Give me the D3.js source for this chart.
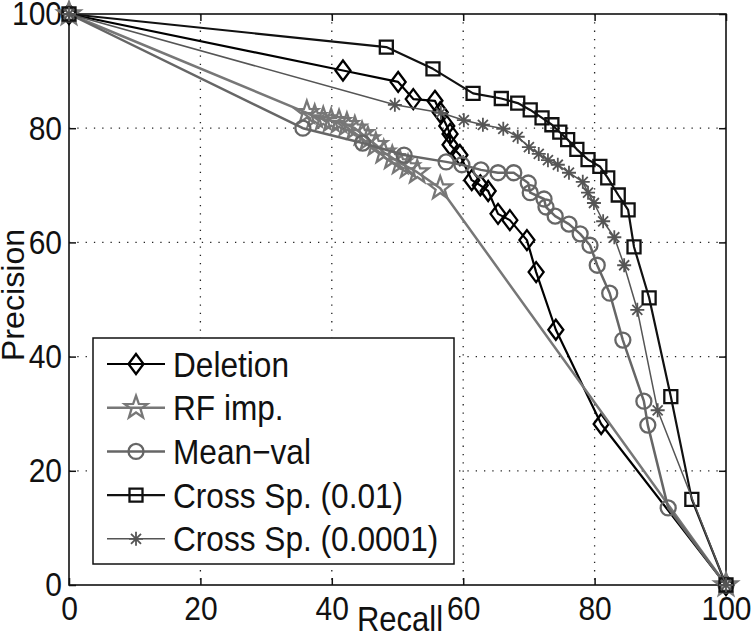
<!DOCTYPE html>
<html>
<head>
<meta charset="utf-8">
<script src="https://cdn.jsdelivr.net/npm/d3@7"></script>
<style>
body { margin: 0; background: #fff; }
text { font-family: "Liberation Sans", Arial, Helvetica, sans-serif; fill: #111; }
</style>
</head>
<body>
<svg id="chart"></svg>
<script>
// values: recall (%) vs precision (%)
var deletionRecall    = [0, 41.7, 50.1, 52.4, 55.7, 56.5, 57.5, 58.0, 58.0, 59.5, 61.3, 62.6, 63.8, 65.3, 67.1, 69.7, 71.1, 74.1, 81.0, 100]
var deletionPrecision = [100, 90.1, 88.1, 85.1, 84.8, 82.8, 80.4, 79.0, 77.1, 75.3, 70.9, 70.0, 69.0, 65.0, 63.9, 60.4, 54.8, 44.7, 28.2, 0]

var rfRecall    = [0, 36.2, 37.4, 38.7, 39.9, 41.1, 42.3, 43.5, 44.6, 45.5, 46.7, 47.9, 49.2, 50.4, 51.6, 53.0, 56.5, 100]
var rfPrecision = [100, 82.7, 82.0, 81.6, 81.3, 81.1, 80.6, 80.0, 79.0, 78.1, 77.1, 75.8, 74.8, 73.9, 73.2, 72.3, 69.5, 0]

var meanRecall    = [0, 35.6, 44.7, 51.0, 57.4, 59.8, 62.7, 65.3, 67.7, 69.9, 70.2, 72.3, 72.6, 74.0, 76.1, 77.8, 79.3, 80.4, 82.3, 84.3, 87.5, 88.1, 91.2, 100]
var meanPrecision = [100, 80.0, 77.4, 75.3, 74.1, 73.6, 72.7, 72.2, 72.2, 70.4, 68.7, 67.6, 66.2, 64.6, 63.2, 61.5, 59.5, 56.0, 51.1, 42.9, 32.2, 28.0, 13.5, 0]

var cross01Recall    = [0, 48.3, 55.4, 61.5, 65.8, 68.3, 70.2, 72.0, 73.5, 74.7, 75.9, 77.3, 79.0, 80.8, 82.0, 83.6, 85.1, 86.0, 88.3, 91.6, 94.8, 100]
var cross01Precision = [100, 94.2, 90.4, 86.1, 85.2, 84.4, 83.2, 81.8, 80.6, 79.3, 78.0, 76.3, 74.5, 73.3, 71.3, 68.3, 65.7, 59.2, 50.3, 33.0, 15.0, 0]

var cross0001Recall    = [0, 49.6, 56.6, 60.1, 63.0, 66.1, 68.3, 70.0, 71.5, 72.9, 74.4, 76.1, 78.2, 79.0, 79.9, 81.3, 83.0, 84.5, 86.5, 89.6, 100]
var cross0001Precision = [100, 84.1, 82.7, 81.4, 80.6, 79.9, 78.5, 76.7, 75.5, 74.4, 73.6, 72.2, 70.6, 68.7, 66.9, 63.7, 60.9, 56.0, 48.2, 30.6, 0]

var seriesNames = ["Deletion", "RF imp.", "Mean\u2212val", "Cross Sp. (0.01)", "Cross Sp. (0.0001)"]
var xTicks = [0, 20, 40, 60, 80, 100]
var yTicks = [0, 20, 40, 60, 80, 100]
var gridTicks = [20, 40, 60, 80]

var series = [
    {name: seriesNames[0], x: deletionRecall, y: deletionPrecision, color: "#000", width: 2.2, marker: "diamond"},
    {name: seriesNames[1], x: rfRecall, y: rfPrecision, color: "#777", width: 2.5, marker: "star"},
    {name: seriesNames[2], x: meanRecall, y: meanPrecision, color: "#666", width: 2.5, marker: "circle"},
    {name: seriesNames[3], x: cross01Recall, y: cross01Precision, color: "#111", width: 2.2, marker: "square"},
    {name: seriesNames[4], x: cross0001Recall, y: cross0001Precision, color: "#555", width: 1.5, marker: "asterisk"}
]

// the figure text is a bit stretched vertically
var textStretch = 1.13

// marker shapes (MATLAB-like, unfilled)
function markerPath(type){
    if (type == "diamond") return "M0,-10L7.5,0L0,10L-7.5,0Z"
    if (type == "square") return "M-6.5,-6.5h13v13h-13Z"
    if (type == "circle") return "M7.5,0A7.5,7.5 0 1 1 -7.5,0A7.5,7.5 0 1 1 7.5,0Z"
    if (type == "star"){
        var pts = []
        for (var i = 0; i < 10; i++){
            var r = i % 2 == 0 ? 12 : 4.8
            var a = -Math.PI / 2 + i * Math.PI / 5
            pts.push([r * Math.cos(a), r * Math.sin(a)])
        }
        return "M" + pts.map(p => p[0].toFixed(2) + "," + p[1].toFixed(2)).join("L") + "Z"
    }
    // asterisk: + and x together
    var s = 7, d = 5
    return "M0,-" + s + "V" + s + "M-" + s + ",0H" + s +
        "M-" + d + ",-" + d + "L" + d + "," + d + "M-" + d + "," + d + "L" + d + ",-" + d
}

var margin = {top: 14, right: 26, bottom: 49, left: 69},
    w = 752 - margin.left - margin.right,
    h = 634 - margin.top - margin.bottom

var svg = d3.select("#chart").attr("width", 752).attr("height", 634)
var g = svg.append("g").attr("transform", `translate(${margin.left}, ${margin.top})`)

var x = d3.scaleLinear().domain([0, 100]).range([0, w])
var y = d3.scaleLinear().domain([0, 100]).range([h, 0])

// dotted grid
g.selectAll(".vgrid").data(gridTicks).join("line").attr("class", "vgrid")
    .attr("x1", d => x(d)).attr("x2", d => x(d)).attr("y1", 0).attr("y2", h)
    .attr("stroke", "#222").attr("stroke-width", 1.3).attr("stroke-dasharray", "1.3,7")
g.selectAll(".hgrid").data(gridTicks).join("line").attr("class", "hgrid")
    .attr("x1", 0).attr("x2", w).attr("y1", d => y(d)).attr("y2", d => y(d))
    .attr("stroke", "#222").attr("stroke-width", 1.3).attr("stroke-dasharray", "1.3,7")

// axes with inward ticks on all four sides
function styleAxis(sel){
    sel.select(".domain").remove()
    sel.selectAll(".tick line").attr("stroke", "#111").attr("stroke-width", 1.5)
    sel.selectAll(".tick text").style("font-size", "30px").attr("fill", "#111")
        .attr("transform", `scale(1, ${textStretch})`)
}
g.append("g").attr("transform", `translate(0, ${h})`)
    .call(d3.axisBottom(x).tickValues(xTicks).tickSize(-7).tickPadding(10).tickSizeOuter(0))
    .call(styleAxis)
g.append("g")
    .call(d3.axisLeft(y).tickValues(yTicks).tickSize(-7).tickPadding(7).tickSizeOuter(0))
    .call(styleAxis)
g.append("g")
    .call(d3.axisTop(x).tickValues(xTicks).tickSize(-7).tickFormat("").tickSizeOuter(0))
    .call(styleAxis)
g.append("g").attr("transform", `translate(${w}, 0)`)
    .call(d3.axisRight(y).tickValues(yTicks).tickSize(-7).tickFormat("").tickSizeOuter(0))
    .call(styleAxis)

g.append("rect").attr("x", 0).attr("y", 0).attr("width", w).attr("height", h)
    .attr("fill", "none").attr("stroke", "#111").attr("stroke-width", 1.6)

// curves and markers
var line = d3.line().x(d => x(d[0])).y(d => y(d[1]))
series.forEach(function(s){
    var pts = s.x.map((v, i) => [v, s.y[i]])
    g.append("path").datum(pts).attr("d", line)
        .attr("fill", "none").attr("stroke", s.color).attr("stroke-width", s.width)
        .attr("stroke-linejoin", "round")
    g.selectAll(null).data(pts).join("path")
        .attr("transform", d => `translate(${x(d[0])}, ${y(d[1])})`)
        .attr("d", markerPath(s.marker))
        .attr("fill", "none").attr("stroke", s.color)
        .attr("stroke-width", s.marker == "asterisk" ? 1.8 : 2.3)
})

// axis labels
svg.append("text").attr("transform", `translate(400, 631) scale(1, ${textStretch})`).attr("text-anchor", "middle")
    .style("font-size", "31px").text("Recall")
svg.append("text").attr("transform", `translate(24, 295) rotate(-90) scale(1.04, 1)`).attr("text-anchor", "middle")
    .style("font-size", "31px").text("Precision")

// legend
var legend = svg.append("g")
legend.append("rect").attr("x", 93).attr("y", 338).attr("width", 361).attr("height", 226)
    .attr("fill", "#fff").attr("stroke", "#111").attr("stroke-width", 1.5)
var entry = legend.selectAll(".entry").data(series).join("g").attr("class", "entry")
    .attr("transform", (d, i) => `translate(0, ${364 + i * 43.7})`)
entry.append("line").attr("x1", 107).attr("x2", 165)
    .attr("stroke", d => d.color).attr("stroke-width", d => d.width)
entry.append("path").attr("transform", "translate(136, 0)").attr("d", d => markerPath(d.marker))
    .attr("fill", "none").attr("stroke", d => d.color)
    .attr("stroke-width", d => d.marker == "asterisk" ? 1.8 : 2.3)
entry.append("text").attr("dy", "0.36em")
    .attr("transform", `translate(173, 0) scale(1.02, ${textStretch})`)
    .style("font-size", "31px").text(d => d.name)
</script>
</body>
</html>
